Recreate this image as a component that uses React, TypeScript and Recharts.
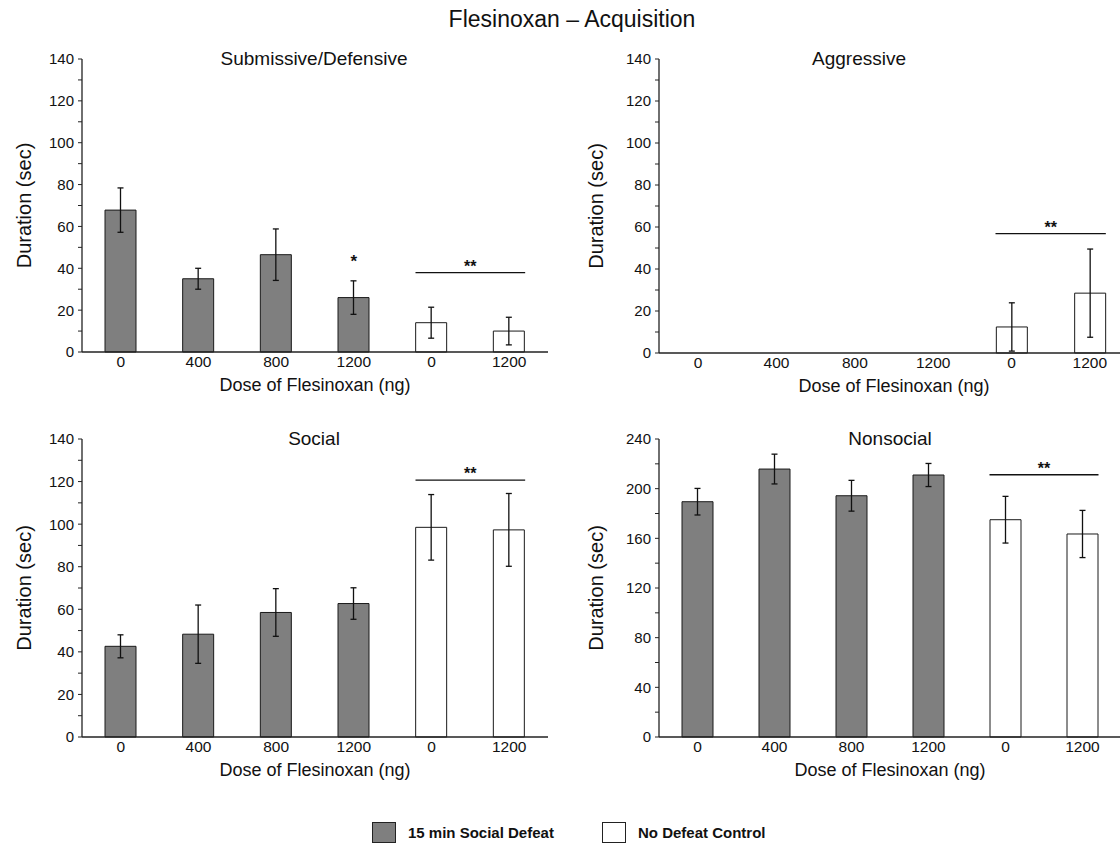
import { BarChart, Bar, Cell, XAxis, YAxis, ErrorBar, ReferenceLine, ReferenceDot } from 'recharts';

// group keys are unique, the printed dose labels repeat
const groupKeys = ['d0', 'd400', 'd800', 'd1200', 'c0', 'c1200'];
const doseLabels = ['0', '400', '800', '1200', '0', '1200'];
const isDefeat = [true, true, true, true, false, false];

const submissiveMean = [67.8, 35, 46.5, 26, 14, 10];
const submissiveErr = [10.6, 5, 12.3, 8, 7.4, 6.6];
const aggressiveMean = [0, 0, 0, 0, 12.4, 28.5];
const aggressiveErr = [0, 0, 0, 0, 11.5, 21];
const socialMean = [42.6, 48.3, 58.5, 62.7, 98.5, 97.3];
const socialErr = [5.4, 13.7, 11.2, 7.4, 15.4, 17.1];
const nonsocialMean = [189.5, 215.8, 194.3, 211, 175, 163.5];
const nonsocialErr = [10.7, 12, 12.4, 9.3, 18.8, 19];

const ticks140 = [0, 10, 20, 30, 40, 50, 60, 70, 80, 90, 100, 110, 120, 130, 140];
const ticks240 = [0, 20, 40, 60, 80, 100, 120, 140, 160, 180, 200, 220, 240];

// significance marks (y in data units)
const submissiveBracket = 37.9;
const submissiveStar = 40.5;
const aggressiveBracket = 56.8;
const socialBracket = 120.7;
const nonsocialBracket = 211.2;

const FONT = '"Liberation Sans", Arial, Helvetica, sans-serif';
const GRAY = '#7f7f7f';
const INK = '#111111';

const buildData = (means: number[], errs: number[]) =>
  groupKeys.map((key, i) => ({ key, mean: means[i], err: errs[i] }));

const makeYTick = (major: number) => (props: any) => {
  const { x, y, payload } = props;
  if (payload.value % major !== 0) return <g />;
  return (
    <text x={x} y={y} dy="0.36em" textAnchor="end" fontSize={15} fill={INK} fontFamily={FONT}>
      {payload.value}
    </text>
  );
};

const SigLine = (props: any) => (
  <line
    x1={props.x1 - 16}
    y1={props.y1}
    x2={props.x2 + 16}
    y2={props.y2}
    stroke={INK}
    strokeWidth={1.3}
  />
);

interface PanelProps {
  title: string;
  titleX: number;
  means: number[];
  errs: number[];
  ticks: number[];
  yMax: number;
  major: number;
  bracket: number;
  star?: number;
  left: number;
  top: number;
  width: number;
  plotHeight: number;
  yAxisWidth: number;
  yLabelOffset: number;
}

const Panel = ({
  title, titleX, means, errs, ticks, yMax, major, bracket, star,
  left, top, width, plotHeight, yAxisWidth, yLabelOffset
}: PanelProps) => {
  const data = buildData(means, errs);
  const marginTop = 19;
  const xAxisHeight = 50;
  return (
    <>
      <div
        style={{
          position: 'absolute', left: titleX - 160, top: top + 9, width: 320,
          textAlign: 'center', fontSize: 19, lineHeight: '19px', color: INK, fontFamily: FONT
        }}
      >
        {title}
      </div>
      <div style={{ position: 'absolute', left, top }}>
        <BarChart
          width={width}
          height={marginTop + plotHeight + xAxisHeight}
          data={data}
          margin={{ top: marginTop, right: 0, bottom: 0, left: 0 }}
          barSize={31}
        >
          <XAxis
            dataKey="key"
            tickFormatter={(_v: any, i: number) => doseLabels[i]}
            tickLine={false}
            tickSize={0}
            tickMargin={4}
            height={xAxisHeight}
            interval={0}
            axisLine={{ stroke: '#222', strokeWidth: 1.3 }}
            tick={{ fontSize: 15.5, fill: INK, fontFamily: FONT }}
            label={{ value: 'Dose of Flesinoxan (ng)', position: 'insideBottom', offset: 11, fontSize: 18, fill: INK, fontFamily: FONT }}
          />
          <YAxis
            type="number"
            domain={[0, yMax]}
            ticks={ticks}
            interval={0}
            width={yAxisWidth}
            tickSize={4}
            tickMargin={4}
            axisLine={{ stroke: '#222', strokeWidth: 1.3 }}
            tickLine={{ stroke: '#222' }}
            tick={makeYTick(major)}
            label={{
              value: 'Duration (sec)', angle: -90, position: 'insideLeft', offset: yLabelOffset,
              fontSize: 20, fill: INK, fontFamily: FONT, style: { textAnchor: 'middle' }
            }}
          />
          <Bar dataKey="mean" stroke="#1a1a1a" strokeWidth={1} isAnimationActive={false}>
            {data.map((d, i) => (
              <Cell key={d.key} fill={isDefeat[i] ? GRAY : '#ffffff'} />
            ))}
            <ErrorBar dataKey="err" width={3} stroke={INK} strokeWidth={1.3} isAnimationActive={false} />
          </Bar>
          <ReferenceLine
            segment={[{ x: 'c0', y: bracket }, { x: 'c1200', y: bracket }]}
            shape={SigLine}
            ifOverflow="visible"
            label={{ value: '**', position: 'top', offset: 1, fontSize: 16, fontWeight: 'bold', fill: INK, fontFamily: FONT }}
          />
          {star !== undefined && (
            <ReferenceDot
              x="d1200"
              y={star}
              r={0}
              stroke="none"
              fill="none"
              ifOverflow="visible"
              label={{ value: '*', position: 'top', offset: 0, fontSize: 17, fontWeight: 'bold', fill: INK, fontFamily: FONT }}
            />
          )}
        </BarChart>
      </div>
    </>
  );
};

const LegendItem = ({ left, fill, text }: { left: number; fill: string; text: string }) => (
  <>
    <div
      style={{
        position: 'absolute', left, top: 822, width: 24, height: 21,
        background: fill, border: '1px solid #222', boxSizing: 'border-box'
      }}
    />
    <div
      style={{
        position: 'absolute', left: left + 36, top: 824, fontSize: 15, lineHeight: '18px',
        fontWeight: 'bold', color: INK, fontFamily: FONT, whiteSpace: 'nowrap'
      }}
    >
      {text}
    </div>
  </>
);

export default function App() {
  return (
    <div
      style={{
        position: 'absolute', left: 0, top: 0, width: 1120, height: 846,
        overflow: 'hidden', background: '#fff', fontFamily: FONT
      }}
    >
      <div
        style={{
          position: 'absolute', left: 372, top: 7, width: 400, textAlign: 'center',
          fontSize: 23, lineHeight: '24px', color: INK
        }}
      >
        Flesinoxan – Acquisition
      </div>

      <Panel
        title="Submissive/Defensive" titleX={314}
        means={submissiveMean} errs={submissiveErr} ticks={ticks140} yMax={140} major={20}
        bracket={submissiveBracket} star={submissiveStar}
        left={0} top={40} width={548} plotHeight={293} yAxisWidth={82} yLabelOffset={24}
      />
      <Panel
        title="Aggressive" titleX={859}
        means={aggressiveMean} errs={aggressiveErr} ticks={ticks140} yMax={140} major={20}
        bracket={aggressiveBracket}
        left={560} top={40} width={569} plotHeight={294} yAxisWidth={99} yLabelOffset={36}
      />
      <Panel
        title="Social" titleX={314}
        means={socialMean} errs={socialErr} ticks={ticks140} yMax={140} major={20}
        bracket={socialBracket}
        left={0} top={420} width={548} plotHeight={298} yAxisWidth={82} yLabelOffset={24}
      />
      <Panel
        title="Nonsocial" titleX={890}
        means={nonsocialMean} errs={nonsocialErr} ticks={ticks240} yMax={240} major={40}
        bracket={nonsocialBracket}
        left={560} top={420} width={561} plotHeight={298} yAxisWidth={99} yLabelOffset={36}
      />

      <LegendItem left={372} fill={GRAY} text="15 min Social Defeat" />
      <LegendItem left={602} fill="#ffffff" text="No Defeat Control" />
    </div>
  );
}
